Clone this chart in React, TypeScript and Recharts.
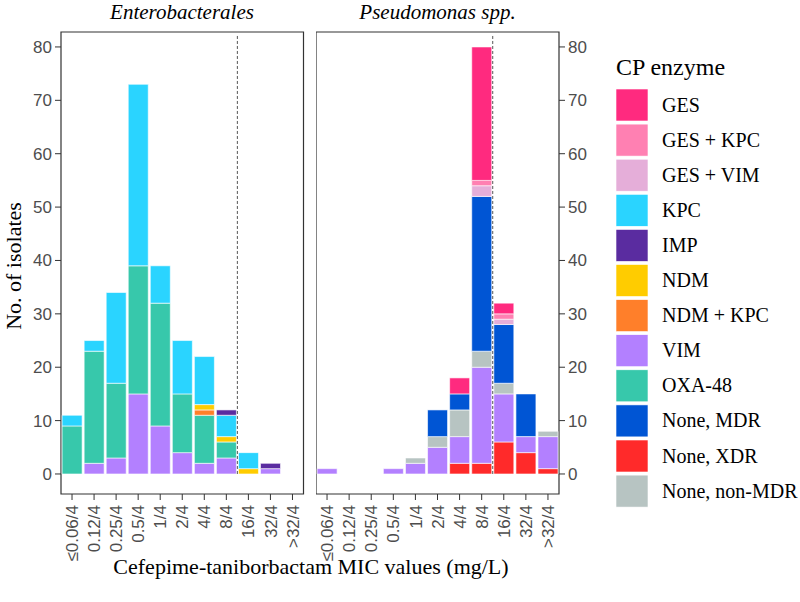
import { BarChart, Bar, XAxis, YAxis, ReferenceLine, ReferenceArea } from 'recharts';

const micLabels = ['≤0.06/4', '0.12/4', '0.25/4', '0.5/4', '1/4', '2/4', '4/4', '8/4', '16/4', '32/4', '>32/4'];
const yTicks = [0, 10, 20, 30, 40, 50, 60, 70, 80];

// Enterobacterales, counts per MIC
const entVIM = [0, 2, 3, 15, 9, 4, 2, 3, 0, 1, 0];
const entOXA48 = [9, 21, 14, 24, 23, 11, 9, 3, 0, 0, 0];
const entNDMKPC = [0, 0, 0, 0, 0, 0, 1, 0, 0, 0, 0];
const entNDM = [0, 0, 0, 0, 0, 0, 1, 1, 1, 0, 0];
const entKPC = [2, 2, 17, 34, 7, 10, 9, 4, 3, 0, 0];
const entIMP = [0, 0, 0, 0, 0, 0, 0, 1, 0, 1, 0];

// Pseudomonas spp., counts per MIC
const psaXDR = [0, 0, 0, 0, 0, 0, 2, 2, 6, 4, 1];
const psaVIM = [1, 0, 0, 1, 2, 5, 5, 18, 9, 3, 6];
const psaNonMDR = [0, 0, 0, 0, 1, 2, 5, 3, 2, 0, 1];
const psaMDR = [0, 0, 0, 0, 0, 5, 3, 29, 11, 8, 0];
const psaGESVIM = [0, 0, 0, 0, 0, 0, 0, 2, 1, 0, 0];
const psaGESKPC = [0, 0, 0, 0, 0, 0, 0, 1, 1, 0, 0];
const psaGES = [0, 0, 0, 0, 0, 0, 3, 25, 2, 0, 0];

// legend order
const enzymes = [
  { key: 'GES', color: '#ff2a7f' },
  { key: 'GES + KPC', color: '#ff80b2' },
  { key: 'GES + VIM', color: '#e5aed9' },
  { key: 'KPC', color: '#2ad4ff' },
  { key: 'IMP', color: '#5a2ca0' },
  { key: 'NDM', color: '#ffcc00' },
  { key: 'NDM + KPC', color: '#ff7f2a' },
  { key: 'VIM', color: '#b380ff' },
  { key: 'OXA-48', color: '#37c8ab' },
  { key: 'None, MDR', color: '#0055d4' },
  { key: 'None, XDR', color: '#ff2a2a' },
  { key: 'None, non-MDR', color: '#b7c4c2' },
];
const colorOf = (k: string) => enzymes.find((e) => e.key === k)!.color;

// bottom -> top in the stacks
const stackOrder = [
  'None, XDR', 'VIM', 'None, non-MDR', 'None, MDR', 'OXA-48', 'NDM + KPC',
  'NDM', 'KPC', 'IMP', 'GES + VIM', 'GES + KPC', 'GES',
];

const entData = micLabels.map((mic, i) => ({
  mic,
  idx: i,
  VIM: entVIM[i],
  'OXA-48': entOXA48[i],
  'NDM + KPC': entNDMKPC[i],
  NDM: entNDM[i],
  KPC: entKPC[i],
  IMP: entIMP[i],
}));

const psaData = micLabels.map((mic, i) => ({
  mic,
  idx: i,
  'None, XDR': psaXDR[i],
  VIM: psaVIM[i],
  'None, non-MDR': psaNonMDR[i],
  'None, MDR': psaMDR[i],
  'GES + VIM': psaGESVIM[i],
  'GES + KPC': psaGESKPC[i],
  GES: psaGES[i],
}));

const SANS = "'Liberation Sans', Arial, sans-serif";
const SERIF = "'Liberation Serif', 'Times New Roman', serif";
const TICK = '#4d4d4d';
const LINE = '#333333';
const Y_DOMAIN = [-3.75, 82.8];

function MicTick({ x, y, payload }: any) {
  return (
    <text
      x={x}
      y={y}
      transform={`rotate(-90, ${x}, ${y})`}
      textAnchor="end"
      dy="0.36em"
      fill={TICK}
      fontSize={17}
      fontFamily={SANS}
    >
      {payload.value}
    </text>
  );
}

function Panel({ data, keys, side }: { data: any[]; keys: string[]; side: 'left' | 'right' }) {
  const series = stackOrder.filter((k) => keys.includes(k));
  return (
    <BarChart
      width={side === 'left' ? 310 : 284}
      height={602}
      data={data}
      margin={{ top: 32, right: side === 'left' ? 6.5 : 0, left: 0, bottom: 0 }}
      barCategoryGap="5%"
    >
      <XAxis
        dataKey="mic"
        height={108}
        interval={0}
        tick={<MicTick />}
        tickSize={6}
        tickMargin={5}
        tickLine={{ stroke: LINE }}
        axisLine={false}
      />
      <XAxis xAxisId="n" type="number" dataKey="idx" domain={[-0.5, 10.5]} allowDataOverflow hide />
      <YAxis
        orientation={side}
        width={side === 'left' ? 61 : 41}
        domain={Y_DOMAIN}
        ticks={yTicks}
        allowDataOverflow
        interval={0}
        tick={{ fill: TICK, fontSize: 17, fontFamily: SANS }}
        tickSize={6}
        tickMargin={3}
        tickLine={{ stroke: LINE }}
        axisLine={false}
      />
      {series.map((k) => (
        <Bar
          key={k}
          dataKey={k}
          stackId="s"
          fill={colorOf(k)}
          stroke="#ffffff"
          strokeWidth={0.6}
          isAnimationActive={false}
        />
      ))}
      <ReferenceLine
        xAxisId="n"
        segment={[{ x: 7.5, y: 0 }, { x: 7.5, y: 82.3 }]}
        stroke="#555555"
        strokeDasharray="3 2"
        strokeWidth={1}
      />
      <ReferenceArea
        xAxisId="n"
        x1={-0.5}
        x2={10.5}
        y1={Y_DOMAIN[0]}
        y2={Y_DOMAIN[1]}
        fill="none"
        stroke={LINE}
        strokeWidth={1.2}
        fillOpacity={0}
      />
    </BarChart>
  );
}

export default function App() {
  return (
    <div style={{ position: 'absolute', left: 0, top: 0, width: 800, height: 602, background: '#fff' }}>
      <div style={{ position: 'absolute', left: 0, top: 0 }}>
        <Panel data={entData} keys={['VIM', 'OXA-48', 'NDM + KPC', 'NDM', 'KPC', 'IMP']} side="left" />
      </div>
      <div style={{ position: 'absolute', left: 316, top: 0 }}>
        <Panel
          data={psaData}
          keys={['None, XDR', 'VIM', 'None, non-MDR', 'None, MDR', 'GES + VIM', 'GES + KPC', 'GES']}
          side="right"
        />
      </div>
      <svg
        width={800}
        height={602}
        style={{ position: 'absolute', left: 0, top: 0, pointerEvents: 'none' }}
      >
        <text x={182} y={19} textAnchor="middle" fontSize={21} fontStyle="italic" fontFamily={SERIF} fill="#000">
          Enterobacterales
        </text>
        <text x={437.5} y={19} textAnchor="middle" fontSize={21} fontStyle="italic" fontFamily={SERIF} fill="#000">
          Pseudomonas spp.
        </text>
        <text
          x={20.5}
          y={266}
          transform="rotate(-90, 20.5, 266)"
          textAnchor="middle"
          fontSize={22}
          fontFamily={SERIF}
          fill="#000"
        >
          No. of isolates
        </text>
        <text x={311} y={574} textAnchor="middle" fontSize={22} fontFamily={SERIF} fill="#000">
          Cefepime-taniborbactam MIC values (mg/L)
        </text>
        <text x={616} y={75} fontSize={24} fontFamily={SERIF} fill="#000">
          CP enzyme
        </text>
        {enzymes.map((e, i) => (
          <g key={e.key}>
            <rect x={616} y={89 + i * 35.1} width={32} height={32} fill={e.color} stroke="#fff" strokeWidth={0.6} />
            <text x={662} y={111.5 + i * 35.1} fontSize={20} fontFamily={SERIF} fill="#000">
              {e.key}
            </text>
          </g>
        ))}
      </svg>
    </div>
  );
}
